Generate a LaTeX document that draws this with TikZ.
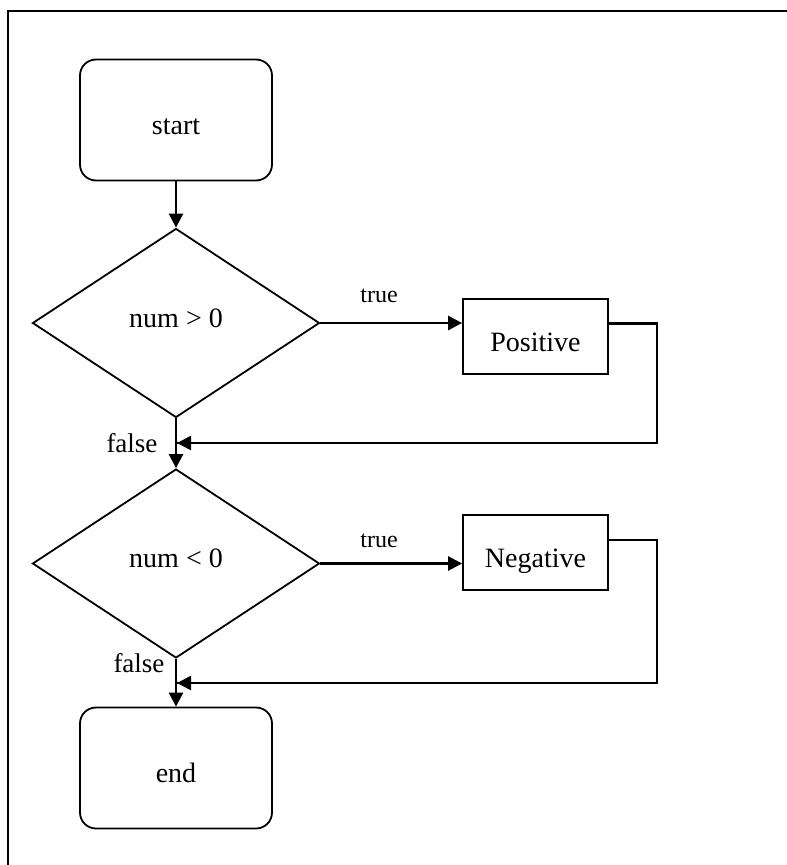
\documentclass[tikz,border=0pt]{standalone}
\usepackage{fontspec}
\setmainfont{Liberation Serif}
\usetikzlibrary{shapes.geometric,arrows.meta,positioning}
\begin{document}
\begin{tikzpicture}[x=1pt,y=-1pt,
  termbox/.style={draw,line width=1.8pt,rounded corners=16pt,minimum width=192pt,minimum height=121pt,inner sep=0pt,text height=28pt,text depth=0pt,font=\fontsize{28}{30}\selectfont},
  decbox/.style={draw,line width=1.8pt,diamond,minimum width=287pt,minimum height=189pt,inner sep=0pt,text height=8pt,text depth=0pt,font=\fontsize{28}{30}\selectfont},
  procbox/.style={draw,line width=1.8pt,minimum width=145pt,minimum height=75pt,inner sep=0pt,text height=29pt,text depth=0pt,font=\fontsize{28}{30}\selectfont},
  conn/.style={line width=2.6pt,-{Triangle[length=14pt,width=14pt]}},
  plain/.style={line width=2.6pt},
  truelbl/.style={font=\fontsize{24}{26}\selectfont},
  falselbl/.style={font=\fontsize{27}{29}\selectfont},
  frameline/.style={line width=2pt}]
\useasboundingbox (0,0) rectangle (787,865);
\draw[frameline] (8,865) -- (8,11) -- (787,11);

\node[termbox] (start) at (176,120) {start};
\node[decbox] (d1) at (176,323) {num > 0};
\node[procbox] (pos) at (535.5,336.5) {Positive};
\node[decbox] (d2) at (176,563.5) {num < 0};
\node[procbox] (neg) at (535.5,552.5) {Negative};
\node[termbox] (end) at (176,768) {end};

\coordinate (m1) at (177,443);
\coordinate (m2) at (177,683);

\draw[conn] (start.south) -- (d1.north);
\draw[conn] (d1.east) -- (d1.east -| pos.west);
\node[truelbl] (t1) at (379,296) {true};
\draw[plain] ([yshift=13pt]pos.east) -- ++(48,0) |- (m1);
\draw[conn] (657,443) -- (m1);
\draw[conn] (d1.south) -- (d2.north);
\node[falselbl, anchor=east] (f1) at (161,443) {false};

\draw[conn] (d2.east) -- (d2.east -| neg.west);
\node[truelbl] (t2) at (379,541) {true};
\draw[plain] ([yshift=12.5pt]neg.east) -- ++(48,0) |- (m2);
\draw[conn] (657,683) -- (m2);
\draw[conn] (d2.south) -- (end.north);
\node[falselbl, anchor=east] (f2) at (168,663) {false};
\end{tikzpicture}
\end{document}
